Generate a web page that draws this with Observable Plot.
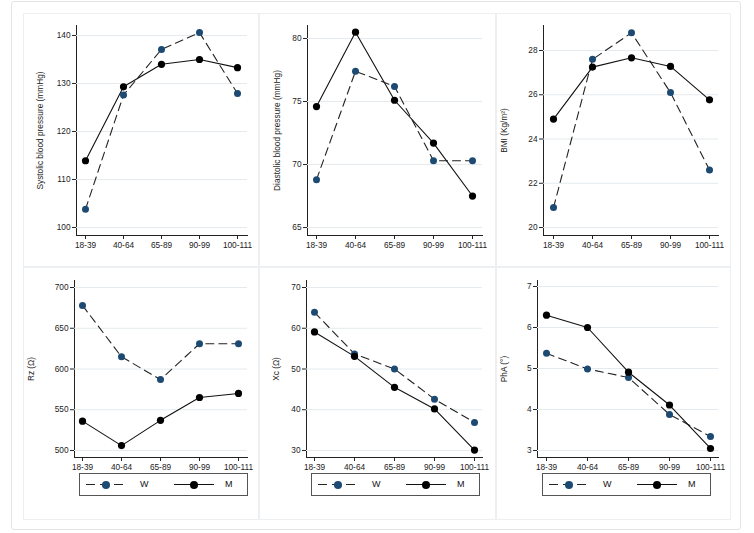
<!DOCTYPE html>
<html>
<head>
<meta charset="utf-8">
<script src="https://cdn.jsdelivr.net/npm/d3@7"></script>
<script src="https://cdn.jsdelivr.net/npm/@observablehq/plot@0.6"></script>
<style>
  html, body { margin: 0; padding: 0; background: #fff; }
  #root { position: relative; width: 754px; height: 533px; background: #fff; overflow: hidden;
          font-family: "Liberation Sans", Arial, Helvetica, sans-serif; }
  .outer { position: absolute; left: 11px; top: 1px; width: 730px; height: 529px; border: 1px solid #e1e5e8; border-radius: 3px; box-sizing: border-box; }
  .cell { position: absolute; border: 1px solid #edf0f2; box-sizing: border-box; background: #fff; }
  .plotbox { position: absolute; }
  .legend { position: absolute; height: 23px; border: 1px solid #555; box-sizing: border-box; background: #fff; font-size: 9px; color: #111; }
  .legend .ln { position: absolute; top: 10px; height: 1px; }
  .legend .mk { position: absolute; top: 6.5px; width: 8px; height: 8px; border-radius: 50%; }
  .legend .tx { position: absolute; top: 5px; }
</style>
</head>
<body>
<div id="root"><div class="outer"></div></div>
<script>
// ---- data ----
const ageGroups = ["18-39", "40-64", "65-89", "90-99", "100-111"];
const sexLabels = ["W", "M"];

const sbpW = [103.8, 127.6, 137.1, 140.6, 127.9];
const sbpM = [113.9, 129.3, 134.0, 135.0, 133.3];
const dbpW = [68.8, 77.4, 76.2, 70.3, 70.3];
const dbpM = [74.6, 80.5, 75.1, 71.7, 67.5];
const bmiW = [20.9, 27.6, 28.8, 26.1, 22.6];
const bmiM = [24.9, 27.25, 27.67, 27.28, 25.77];
const rzW = [678, 615, 587, 631, 631];
const rzM = [536, 506, 537, 565, 570];
const xcW = [63.9, 53.7, 50.0, 42.6, 36.9];
const xcM = [59.1, 53.1, 45.5, 40.2, 30.1];
const phaW = [5.37, 4.99, 4.78, 3.88, 3.34];
const phaM = [6.30, 6.00, 4.91, 4.11, 3.05];

const sbpTicks = [100, 110, 120, 130, 140];
const dbpTicks = [65, 70, 75, 80];
const bmiTicks = [20, 22, 24, 26, 28];
const rzTicks = [500, 550, 600, 650, 700];
const xcTicks = [30, 40, 50, 60, 70];
const phaTicks = [3, 4, 5, 6, 7];

const labels = ["Systolic blood pressure (mmHg)", "Diastolic blood pressure (mmHg)", "BMI (Kg/m\u00B2)",
                "Rz (\u03A9)", "Xc (\u03A9)", "PhA (\u00B0)"];

// ---- layout (positions only) ----
const colW = "#1c4a72";
const cells = [
  {x: 23, y: 13, w: 236, h: 254}, {x: 259, y: 13, w: 237, h: 254}, {x: 496, y: 13, w: 235, h: 254},
  {x: 23, y: 267, w: 236, h: 253}, {x: 259, y: 267, w: 237, h: 253}, {x: 496, y: 267, w: 235, h: 253}
];
const panels = [
  {w: sbpW, m: sbpM, ticks: sbpTicks, label: labels[0], left: 23, top: 13, width: 236, height: 254, mt: 12, mb: 32, ml: 53, mr: 12, il: 7, ir: 9, dom: [98.33, 142.08], lo: 39},
  {w: dbpW, m: dbpM, ticks: dbpTicks, label: labels[1], left: 259, top: 13, width: 237, height: 254, mt: 12, mb: 32, ml: 48, mr: 14, il: 7, ir: 9, dom: [64.37, 81.03], lo: 33.5},
  {w: bmiW, m: bmiM, ticks: bmiTicks, label: labels[2], left: 496, top: 13, width: 235, height: 254, mt: 12, mb: 32, ml: 47, mr: 13, il: 8, ir: 8, dom: [19.64, 29.13], lo: 42.5},
  {w: rzW, m: rzM, ticks: rzTicks, label: labels[3], left: 23, top: 267, width: 236, height: 208, mt: 13, mb: 18, ml: 51, mr: 12, il: 8, ir: 9, dom: [491.4, 708.6], lo: 46.5, legend: true},
  {w: xcW, m: xcM, ticks: xcTicks, label: labels[4], left: 259, top: 267, width: 237, height: 208, mt: 13, mb: 18, ml: 47, mr: 14, il: 7, ir: 7, dom: [28.28, 71.72], lo: 33.5, legend: true},
  {w: phaW, m: phaM, ticks: phaTicks, label: labels[5], left: 496, top: 267, width: 235, height: 208, mt: 13, mb: 18, ml: 41, mr: 13, il: 7, ir: 7, dom: [2.83, 7.146], lo: 36.5, legend: true}
];

const root = document.getElementById("root");
for (const c of cells) {
  const d = document.createElement("div");
  d.className = "cell";
  Object.assign(d.style, {left: c.x + "px", top: c.y + "px", width: c.w + "px", height: c.h + "px"});
  root.appendChild(d);
}

for (const p of panels) {
  const dW = ageGroups.map((a, i) => ({age: a, v: p.w[i]}));
  const dM = ageGroups.map((a, i) => ({age: a, v: p.m[i]}));
  const chart = Plot.plot({
    width: p.width, height: p.height,
    marginTop: p.mt, marginBottom: p.mb, marginLeft: p.ml, marginRight: p.mr,
    style: {fontFamily: "'Liberation Sans', Arial, Helvetica, sans-serif", fontSize: "8.3px", color: "#222", background: "transparent", overflow: "visible"},
    x: {type: "point", domain: ageGroups, padding: 0, insetLeft: p.il, insetRight: p.ir, tickSize: 4, tickPadding: 3, label: null, line: true},
    y: {domain: p.dom, ticks: p.ticks, tickSize: 4, tickPadding: 2, tickFormat: d => String(d), line: true,
        label: p.label, labelAnchor: "center", labelOffset: p.lo, labelArrow: "none"},
    marks: [
      Plot.gridY(p.ticks, {stroke: "#e4eaed", strokeOpacity: 1, strokeWidth: 1}),
      Plot.lineY(dW, {x: "age", y: "v", stroke: "#222", strokeWidth: 1.1, strokeDasharray: "8,5"}),
      Plot.lineY(dM, {x: "age", y: "v", stroke: "#111", strokeWidth: 1.1}),
      Plot.dot(dW, {x: "age", y: "v", r: 3.5, fill: colW, stroke: "none"}),
      Plot.dot(dM, {x: "age", y: "v", r: 3.6, fill: "#000", stroke: "none"})
    ]
  });
  const box = document.createElement("div");
  box.className = "plotbox";
  box.style.left = p.left + "px";
  box.style.top = p.top + "px";
  box.appendChild(chart);
  root.appendChild(box);

  if (p.legend) {
    const lg = document.createElement("div");
    lg.className = "legend";
    const lx = p.left + p.ml + 5;
    Object.assign(lg.style, {left: lx + "px", top: "473px", width: "169px"});
    lg.innerHTML =
      `<div class="ln" style="left:6px;width:42px;background:repeating-linear-gradient(to right,#222 0 9px,transparent 9px 14px)"></div>` +
      `<div class="mk" style="left:22px;background:${colW}"></div>` +
      `<div class="tx" style="left:60px">${sexLabels[0]}</div>` +
      `<div class="ln" style="left:94px;width:40px;background:#111"></div>` +
      `<div class="mk" style="left:110px;background:#000"></div>` +
      `<div class="tx" style="left:145px">${sexLabels[1]}</div>`;
    root.appendChild(lg);
  }
}
</script>
</body>
</html>
